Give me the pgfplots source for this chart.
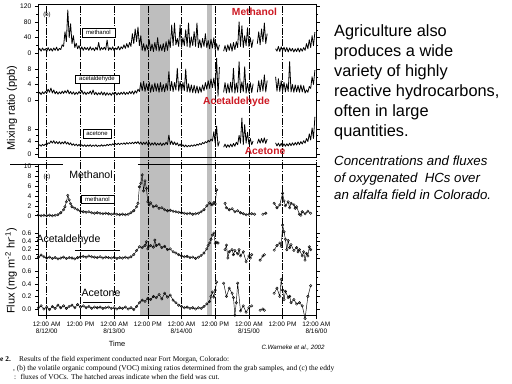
\documentclass[border=0pt]{standalone}
\usepackage{fontspec}
\setmainfont{Liberation Sans}
\newfontfamily\capfont{Liberation Serif}
\usepackage{pgfplots}
\pgfplotsset{compat=1.18}
\definecolor{redlab}{RGB}{205,25,35}
\definecolor{band}{RGB}{190,190,190}
\begin{document}
\begin{tikzpicture}[x=1bp,y=1bp]
\fill[white] (0bp,0bp) rectangle (512bp,384bp);
\pgfplotsset{
  every axis/.append style={scale only axis, width=278bp, xmin=-3, xmax=96, enlargelimits=false,
    anchor=south west, /pgf/number format/assume math mode=true,
    tick label style={font=\fontsize{6.7}{7}\selectfont}},
  sub/.style={hide x axis, axis y line*=box, clip=false, tick align=outside,
    major tick length=3.5bp, minor tick length=2bp, minor y tick num=1,
    y axis line style={line width=0.6bp}, unbounded coords=jump,
    every tick/.style={black, line width=0.5bp}},
  mix/.style={black, line width=0.8bp, line join=round, mark=none},
  flux/.style={black, line width=0.45bp, mark=o, mark size=1.25bp, mark options={line width=0.4bp}},
  onedec/.style={yticklabel style={/pgf/number format/.cd, fixed, fixed zerofill, precision=1}}
}
% ---------- background grid axis with shaded (cut) periods ----------
\begin{axis}[at={(38.3bp,69bp)}, height=311bp, ymin=0, ymax=1, axis on top,
  axis line style={draw=none}, ytick=\empty, xtick={0,12,...,96}, xtick pos=bottom,
  tick align=outside, major tick length=4bp, every tick/.style={black, line width=0.5bp},
  xmajorgrids, grid style={black, line width=0.55bp, dash pattern=on 7bp off 1.5bp on 1.2bp off 1.5bp},
  xticklabels={{12:00 AM\\8/12/00},{12:00 PM},{12:00 AM\\8/13/00},{12:00 PM},{12:00 AM\\8/14/00},{12:00 PM},{12:00 AM\\8/15/00},{12:00 PM},{12:00 AM\\8/16/00}},
  xticklabel style={align=center, font=\fontsize{6.5}{7}\selectfont, yshift=1bp}]
\addplot[fill=band, draw=none] coordinates {(33.1,0) (43.9,0) (43.9,1) (33.1,1)} --cycle;
\addplot[fill=band, draw=none] coordinates {(56.9,0) (59.0,0) (59.0,1) (56.9,1)} --cycle;
\end{axis}
% ---------- panel (b) frame ----------
\begin{axis}[at={(38.3bp,227bp)}, height=153bp, ymin=0, ymax=1, xtick=\empty, ytick=\empty,
  axis line style={line width=0.7bp}]
\addplot[draw=none] coordinates {(0,0)};
\end{axis}
% ---------- panel (c) frame ----------
\begin{axis}[at={(38.3bp,69bp)}, height=151bp, ymin=0, ymax=1, xtick=\empty, ytick=\empty,
  axis line style={draw=none}, clip=false]
\addplot[draw=none] coordinates {(0,0)};
\draw[line width=0.7bp] (rel axis cs:0,1) -- (rel axis cs:0,0) -- (rel axis cs:1,0) -- (rel axis cs:1,1);
\draw[line width=0.7bp] (axis cs:-13,1) -- (axis cs:5.8,1);
\draw[line width=0.7bp] (axis cs:32.5,1) -- (rel axis cs:1,1);
\end{axis}
% ---------- mixing ratio: methanol ----------
\begin{axis}[sub, at={(38.3bp,326.5bp)}, height=53.5bp, ymin=-10, ymax=125, ytick={0,40,80,120}]
\addplot[mix] table[header=false, row sep=\\, x expr=\coordindex*0.5-3, y index=0]{
7\\13\\6\\14\\8\\12\\5\\15\\7\\13\\6\\14\\8\\16\\7\\13\\10\\22\\18\\55\\30\\110\\40\\75\\25\\45\\15\\26\\12\\20\\
9\\17\\8\\16\\10\\15\\8\\17\\9\\14\\7\\16\\9\\28\\8\\15\\10\\16\\9\\34\\8\\15\\9\\17\\7\\14\\10\\18\\9\\17\\
12\\22\\13\\25\\15\\28\\18\\50\\25\\62\\30\\67\\20\\45\\8\\25\\6\\22\\10\\35\\7\\24\\5\\28\\8\\40\\6\\22\\
7\\25\\5\\30\\8\\35\\15\\72\\20\\77\\22\\38\\18\\72\\16\\40\\20\\60\\18\\77\\15\\42\\20\\55\\18\\77\\15\\35\\
14\\38\\18\\50\\15\\33\\12\\36\\14\\40\\10\\25\\8\\22\\};
\addplot[mix] table[header=false, row sep=\\, x expr=\coordindex*0.5+63, y index=0]{
6\\20\\5\\22\\8\\25\\6\\28\\10\\30\\15\\80\\18\\70\\15\\45\\20\\65\\18\\40\\15\\35\\};
\addplot[mix] table[header=false, row sep=\\, x expr=\coordindex*0.5+75, y index=0]{
25\\55\\22\\62\\30\\77\\25\\50\\};
\addplot[mix] table[header=false, row sep=\\, x expr=\coordindex*0.5+81.5, y index=0]{
12\\6\\18\\5\\17\\7\\16\\5\\15\\4\\14\\6\\13\\4\\12\\5\\14\\4\\13\\6\\15\\8\\25\\12\\35\\15\\45\\20\\54\\};
\end{axis}
% ---------- mixing ratio: acetaldehyde ----------
\begin{axis}[sub, at={(38.3bp,280.1bp)}, height=42.6bp, ymin=-1, ymax=10, ytick={0,4,8}]
\addplot[mix] table[header=false, row sep=\\, x expr=\coordindex*0.5-3, y index=0]{
1.5\\2.0\\1.4\\2.1\\1.6\\2.2\\1.8\\2.8\\2.0\\3.1\\1.8\\2.6\\1.6\\2.2\\1.5\\2.1\\1.6\\2.3\\1.7\\2.4\\1.8\\2.6\\1.6\\2.2\\1.5\\2.1\\1.4\\2.0\\1.5\\2.2\\
1.6\\2.5\\1.5\\2.1\\1.4\\2.0\\1.6\\2.3\\1.5\\2.6\\1.4\\2.0\\1.3\\1.9\\1.4\\2.1\\1.3\\2.0\\1.2\\1.9\\1.3\\1.8\\1.2\\1.9\\1.4\\2.0\\1.3\\1.9\\1.4\\2.0\\
1.5\\2.1\\1.4\\2.0\\1.5\\2.2\\1.6\\2.3\\1.5\\2.4\\1.8\\2.8\\2.2\\4.5\\2.4\\4.8\\2.2\\4.2\\2.5\\4.6\\2.0\\4.0\\2.2\\4.4\\2.3\\4.2\\2.0\\4.5\\
2.2\\4.0\\2.1\\4.3\\2.5\\7.3\\2.4\\4.8\\2.2\\4.5\\2.6\\8.2\\2.3\\4.8\\2.2\\4.5\\2.4\\8.0\\2.1\\4.2\\2.0\\3.9\\1.9\\3.8\\1.8\\3.6\\1.8\\3.4\\
2.0\\3.9\\2.4\\4.5\\2.8\\5.0\\3.0\\5.4\\3.2\\5.7\\3.0\\10.8\\1.0\\8.5\\};
\addplot[mix] table[header=false, row sep=\\, x expr=\coordindex*0.5+63, y index=0]{
2.0\\4.5\\1.8\\4.2\\1.9\\4.6\\2.0\\8.2\\1.8\\4.4\\2.0\\9.9\\1.9\\4.7\\2.1\\8.6\\1.8\\4.3\\2.0\\4.5\\1.9\\4.2\\};
\addplot[mix] table[header=false, row sep=\\, x expr=\coordindex*0.5+75, y index=0]{
2.0\\5.0\\2.2\\5.2\\2.3\\6.5\\2.1\\5.0\\};
\addplot[mix] table[header=false, row sep=\\, x expr=\coordindex*0.5+81.5, y index=0]{
6.0\\2.3\\5.5\\2.2\\5.0\\2.2\\4.6\\2.1\\4.2\\2.2\\9.9\\2.1\\4.0\\2.0\\3.9\\2.1\\3.8\\2.0\\3.9\\2.1\\3.7\\1.8\\2.6\\2.0\\3.5\\3.0\\6.0\\4.0\\7.7\\};
\end{axis}
% ---------- mixing ratio: acetone ----------
\begin{axis}[sub, at={(38.3bp,226.9bp)}, height=34.1bp, ymin=-1, ymax=10, ytick={0,4,8}]
\addplot[mix] table[header=false, row sep=\\, x expr=\coordindex*0.5-3, y index=0]{
2.6\\3.0\\2.5\\3.1\\2.7\\3.2\\2.9\\3.6\\3.4\\4.2\\3.5\\4.3\\3.4\\4.0\\3.3\\4.0\\3.2\\3.9\\3.3\\4.1\\3.2\\3.8\\3.0\\3.6\\2.8\\3.3\\2.7\\3.2\\2.6\\3.1\\
2.5\\3.0\\2.5\\3.0\\2.4\\2.9\\2.5\\3.0\\2.4\\2.9\\2.5\\3.0\\2.4\\2.8\\2.5\\3.0\\2.5\\2.9\\2.6\\3.1\\2.7\\3.2\\2.8\\3.3\\2.9\\3.4\\3.0\\3.5\\
3.0\\3.5\\3.1\\3.6\\3.1\\3.7\\3.2\\3.7\\3.3\\3.8\\3.3\\3.9\\3.4\\4.0\\3.2\\3.9\\3.0\\3.8\\3.1\\3.9\\2.9\\3.7\\2.8\\3.6\\2.9\\3.7\\2.8\\3.5\\
2.9\\3.6\\2.7\\3.5\\2.9\\3.8\\3.0\\6.1\\3.1\\4.2\\3.0\\3.9\\2.9\\3.6\\2.6\\3.2\\2.4\\3.0\\2.3\\2.9\\2.3\\2.8\\2.4\\2.9\\2.5\\3.0\\2.6\\3.2\\
2.8\\3.4\\3.0\\3.7\\3.3\\4.0\\3.6\\4.4\\3.9\\4.8\\4.2\\7.2\\3.5\\9.0\\2.5\\4.0\\};
\addplot[mix] table[header=false, row sep=\\, x expr=\coordindex*0.5+63, y index=0]{
2.2\\3.2\\2.1\\3.0\\2.2\\3.2\\2.3\\3.4\\2.5\\3.8\\3.0\\6.0\\3.5\\11.6\\3.0\\9.5\\3.5\\7.0\\3.2\\5.0\\3.0\\4.2\\};
\addplot[mix] table[header=false, row sep=\\, x expr=\coordindex*0.5+75, y index=0]{
3.4\\4.8\\3.5\\5.0\\3.6\\5.2\\3.4\\4.8\\};
\addplot[mix] table[header=false, row sep=\\, x expr=\coordindex*0.5+81.5, y index=0]{
3.6\\2.6\\3.5\\2.5\\3.4\\2.4\\3.3\\2.5\\3.3\\2.6\\3.5\\2.7\\3.6\\2.8\\3.7\\2.9\\3.9\\3.0\\4.0\\3.2\\4.3\\3.5\\5.0\\4.0\\6.5\\4.5\\8.4\\5.0\\12.0\\};
\end{axis}
% ---------- flux: methanol ----------
\begin{axis}[sub, at={(38.3bp,163.3bp)}, height=54.7bp, ymin=-1, ymax=10, ytick={0,2,...,10}]
\addplot[flux] coordinates {(-3,0.1)(-2,0.0)(-1,0.1)(0,0.0)(1,0.1)(2,0.0)(3,0.1)(4,0.2)(5,0.6)(6,1.2)(6.5,1.8)(7,2.8)(7.5,4.1)(8,3.2)(8.5,2.4)(9,1.8)(10,1.5)(11,1.2)(12,0.9)(13,0.8)(14,0.7)(15,0.8)(16,0.6)(17,0.5)(18,0.6)(19,0.5)(20,0.4)(21,0.5)(22,0.4)(23,0.3)(24,0.4)(25,0.3)(26,0.2)(27,0.3)(28,0.2)(29,0.3)(30,0.6)(31,1.0)(32,1.8)(32.5,2.5)(33,5.8)(33.5,6.5)(34,8.2)(34.5,5.0)(35,7.0)(35.5,5.5)(36,2.8)(36.5,2.2)(37,2.6)(38,1.8)(39,2.0)(40,1.5)(41,1.6)(42,1.2)(43,1.0)(44,1.1)(45,0.9)(46,0.8)(47,0.7)(48,0.6)(49,0.5)(50,0.4)(51,0.5)(52,0.3)(53,0.4)(54,0.5)(55,0.8)(56,1.2)(57,2.0)(58,2.6)(58.5,2.3)(59,2.2)(59.5,2.7)(60,2.4)(60.5,5.2)(62,nan)(63.5,2.5)(64,1.6)(65,1.2)(66,1.4)(67,0.8)(68,1.0)(69,0.6)(70,0.4)(71,0.2)(72,0.3)(73,0.4)(74,0.3)(75,nan)(77,0.3)(78,0.5)(79,nan)(81,2.5)(82,1.6)(83,2.2)(84,4.5)(84.5,3.0)(85,2.0)(86,2.8)(86.5,1.6)(87,2.5)(88,2.2)(88.5,1.5)(89,1.8)(90,0.3)(90.5,0.1)(91,0.8)(92,0.4)(93,0.9)(94,0.5)};
\end{axis}
% ---------- flux: acetaldehyde ----------
\begin{axis}[sub, onedec, at={(38.3bp,121.8bp)}, height=29.2bp, ymin=-0.1, ymax=0.6, ytick={0,0.2,0.4,0.6}]
\addplot[flux] coordinates {(-3,0.02)(-2,0.07)(-1,0.03)(0,0.0)(1,0.02)(2,-0.01)(3,0.01)(4,-0.02)(5,0.0)(6,0.02)(7,-0.01)(8,0.01)(9,0.0)(10,-0.02)(11,0.01)(12,0.03)(13,0.04)(14,0.02)(15,0.05)(16,0.03)(17,0.02)(18,0.01)(19,0.03)(20,0.0)(21,0.02)(22,0.01)(23,0.0)(24,0.02)(25,-0.01)(26,0.01)(27,0.0)(28,0.02)(29,0.0)(30,0.03)(31,0.08)(32,0.18)(33,0.27)(34,0.25)(35,0.3)(35.5,0.39)(36,0.22)(37,0.3)(38,0.26)(38.5,0.43)(39,0.3)(40,0.33)(41,0.25)(42,0.28)(43,0.2)(44,0.22)(45,0.15)(46,0.12)(47,0.08)(48,0.05)(49,0.03)(50,0.04)(51,0.01)(52,0.02)(53,-0.01)(54,0.02)(55,0.06)(56,0.12)(57,0.22)(57.5,0.3)(58,0.36)(58.5,0.45)(59,0.55)(59.5,0.6)(60,0.35)(60.5,0.38)(61,0.36)(62,nan)(63.5,0.2)(64,0.31)(64.5,0.0)(65,0.15)(66,0.2)(66.5,0.08)(67,0.18)(68,0.1)(68.5,0.2)(69,0.05)(70,0.15)(71,-0.09)(72,0.05)(72.5,0.0)(73,0.08)(74,nan)(76,-0.05)(77,0.05)(77.5,0.08)(79,nan)(81,0.19)(82,0.3)(83,0.36)(83.5,0.28)(84,0.79)(84.5,0.63)(85,0.45)(85.5,0.2)(86,0.42)(86.5,0.25)(87,0.32)(88,0.18)(89,0.25)(89.5,0.15)(90,0.2)(91,0.05)(91.5,0.15)(92,-0.05)(92.5,0.11)(93,0.05)(93.5,0.27)(94,0.2)};
\end{axis}
% ---------- flux: acetone ----------
\begin{axis}[sub, onedec, at={(38.3bp,68.7bp)}, height=44.1bp, ymin=-0.1, ymax=0.6, ytick={0,0.2,0.4,0.6}]
\addplot[flux] coordinates {(-3,0.02)(-2,0.05)(-1,0.0)(0,0.03)(1,-0.01)(2,0.04)(3,0.01)(4,0.06)(5,0.02)(6,0.05)(7,0.01)(8,0.04)(9,0.06)(10,0.02)(11,0.07)(12,0.03)(13,0.05)(14,0.02)(15,0.04)(16,0.01)(17,0.03)(18,0.02)(19,0.03)(20,0.01)(21,0.02)(22,0.03)(23,0.01)(24,0.02)(25,0.0)(26,0.02)(27,0.01)(28,0.03)(29,0.0)(30,0.02)(31,-0.01)(32,0.04)(33,0.1)(34,0.14)(35,0.12)(36,0.17)(37,0.15)(38,0.2)(39,0.18)(40,0.23)(41,0.16)(42,0.25)(43,0.19)(44,0.22)(45,0.14)(46,0.1)(47,0.06)(48,0.04)(49,0.02)(50,0.03)(51,0.01)(52,0.02)(53,0.0)(54,0.02)(55,0.01)(56,0.04)(57,0.08)(58,0.12)(58.5,0.2)(59,0.27)(59.5,0.19)(60,0.3)(60.5,0.43)(62,nan)(63,0.41)(64,0.2)(65,0.33)(66,0.25)(66.5,0.18)(67,-0.1)(67.5,0.1)(68,0.41)(69,-0.03)(70,0.05)(71,-0.05)(72,0.02)(73,0.05)(74,nan)(76,-0.02)(77,0.0)(77.5,-0.02)(79,nan)(81,0.25)(82,0.33)(83,0.2)(83.5,0.47)(84,0.3)(84.5,0.15)(85,0.28)(86,0.18)(86.5,0.2)(87,0.1)(88,0.15)(89,0.08)(90,0.1)(91,0.05)(92,-0.15)(93,0.2)(94,0.37)};
\end{axis}
% ---------- labels ----------
\node[rotate=90, font=\fontsize{11}{12}\selectfont] at (12bp,276bp) {Mixing ratio (ppb)};
\node[rotate=90, font=\fontsize{11}{12}\selectfont] at (11bp,113bp) {Flux (mg m\textsuperscript{-2} hr\textsuperscript{-1})};
\node[font=\bfseries\fontsize{10.3}{11}\selectfont, text=redlab] at (254.5bp,372bp) {Methanol};
\node[font=\bfseries\fontsize{10.3}{11}\selectfont, text=redlab] at (236.5bp,282bp) {Acetaldehyde};
\node[font=\bfseries\fontsize{10.3}{11}\selectfont, text=redlab] at (265bp,233bp) {Acetone};
\node[font=\fontsize{10.6}{11}\selectfont] at (91bp,209bp) {Methanol};
\node[font=\fontsize{10.6}{11}\selectfont] at (68.5bp,144bp) {Acetaldehyde};
\node[font=\fontsize{10.6}{11}\selectfont] at (101bp,91bp) {Acetone};
\node[draw, fill=white, line width=0.5bp, inner sep=0pt, minimum width=33bp, minimum height=9bp, font=\fontsize{6}{6}\selectfont] at (98.5bp,351.5bp) {methanol};
\node[draw, fill=white, line width=0.5bp, inner sep=0pt, minimum width=44bp, minimum height=8bp, font=\fontsize{6}{6}\selectfont] at (97bp,305bp) {acetaldehyde};
\node[draw, fill=white, line width=0.5bp, inner sep=0pt, minimum width=28bp, minimum height=9bp, font=\fontsize{6}{6}\selectfont] at (97bp,250.5bp) {acetone};
\node[draw, fill=white, line width=0.5bp, inner sep=0pt, minimum width=33bp, minimum height=8bp, font=\fontsize{6}{6}\selectfont] at (97.5bp,185bp) {methanol};
\draw[line width=0.5bp] (75bp,134bp) -- (120bp,134bp);
\draw[line width=0.5bp] (83bp,82bp) -- (112bp,82bp);
\node[font=\fontsize{6}{6}\selectfont] at (47bp,369bp) {(b)};
\node[font=\fontsize{6}{6}\selectfont] at (47bp,207bp) {(c)};
\node[font=\fontsize{7.5}{8}\selectfont] at (117bp,40bp) {Time};
\node[font=\itshape\fontsize{6.2}{7}\selectfont, anchor=west] at (258bp,36bp) {C.Warneke et al., 2002};
% ---------- slide text ----------
\node[anchor=north west, align=left, inner sep=0pt, font=\fontsize{16.4}{20.2}\selectfont] at (334bp,360bp)
 {Agriculture also\\produces a wide\\variety of highly\\reactive hydrocarbons,\\often in large\\quantities.};
\node[anchor=north west, align=left, inner sep=0pt, font=\itshape\fontsize{13.3}{17}\selectfont] at (334bp,228bp)
 {Concentrations and fluxes\\of oxygenated \ HCs over\\an alfalfa field in Colorado.};
% ---------- caption ----------
\node[anchor=base west, inner sep=0pt, font=\capfont\bfseries\fontsize{7.4}{8}\selectfont] at (0bp,22.5bp) {e 2.};
\node[anchor=base west, inner sep=0pt, font=\capfont\fontsize{7.4}{8}\selectfont] at (19bp,22.5bp) {Results of the field experiment conducted near Fort Morgan, Colorado:};
\node[anchor=base west, inner sep=0pt, font=\capfont\fontsize{7.4}{8}\selectfont] at (13bp,13.5bp) {, (b) the volatile organic compound (VOC) mixing ratios determined from the grab samples, and (c) the eddy};
\node[anchor=base west, inner sep=0pt, font=\capfont\fontsize{7.4}{8}\selectfont] at (14bp,4.5bp) {: \ fluxes of VOCs. The hatched areas indicate when the field was cut.};
\end{tikzpicture}
\end{document}
